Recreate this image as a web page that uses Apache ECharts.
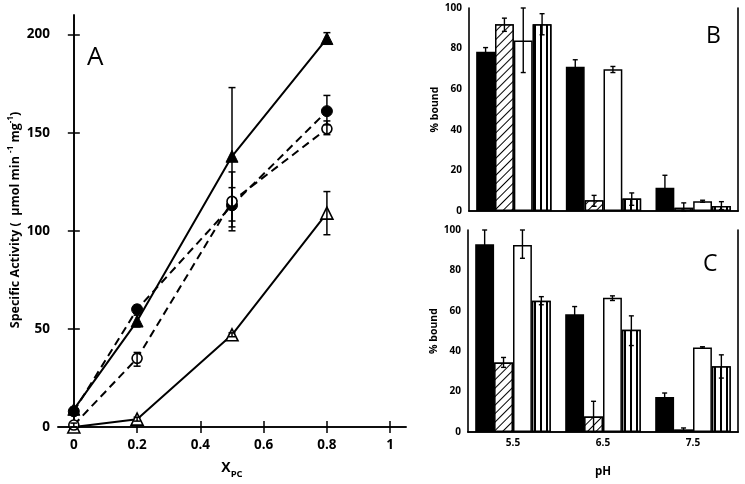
<!DOCTYPE html>
<html><head><meta charset="utf-8">
<script src="https://cdn.jsdelivr.net/npm/echarts@6/dist/echarts.min.js"></script>
<style>html,body{margin:0;padding:0;background:#fff}#c{width:745px;height:484px}</style>
</head><body><div id="c"></div>
<script>
// ---------- Panel A data ----------
const xPC = [0, 0.2, 0.5, 0.8];
const filledTri = [9, 54, 138, 198];
const filledTriErr = [[8, 10], [51, 57], [102, 173], [196, 201]];
const filledCirc = [8, 60, 113, 161];
const filledCircErr = [[7, 9], [58, 62], [105, 122], [154, 169]];
const openCirc = [1, 35, 115, 152];
const openCircErr = [[0, 2], [31, 38], [100, 130], [149, 156]];
const openTri = [0, 4, 47, 109];
const openTriErr = [[0, 0], [3, 5], [46, 48], [98, 120]];
const xTicksA = [0, 0.2, 0.4, 0.6, 0.8, 1];
const yTicksA = [0, 50, 100, 150, 200];

// ---------- Panels B and C data ----------
const pH = ['5.5', '6.5', '7.5'];
const B_black = [78.5, 71, 11.4];
const B_blackErr = [[76.5, 80.5], [67.5, 74.5], [5.2, 17.6]];
const B_hatch = [92, 5.3, 1.6];
const B_hatchErr = [[88.5, 95], [2.3, 7.7], [0, 4]];
const B_white = [84, 69.8, 4.8];
const B_whiteErr = [[68.2, 100], [68.2, 71.2], [4.3, 5.3]];
const B_stripe = [92, 6.1, 2.5];
const B_stripeErr = [[86.8, 97.2], [2.8, 8.9], [0.7, 4.6]];

const C_black = [93, 58.3, 17.3];
const C_blackErr = [[86, 100], [54.5, 62.1], [15.3, 19.3]];
const C_hatch = [34.4, 7.7, 1.2];
const C_hatchErr = [[32, 36.9], [0, 15.2], [0.3, 2]];
const C_white = [92.6, 66.4, 41.8];
const C_whiteErr = [[86, 100], [65.1, 67.4], [41.5, 42.2]];
const C_stripe = [65, 50.6, 32.5];
const C_stripeErr = [[63, 67], [42.8, 57.5], [26.7, 38.2]];

const FONT = 'Open Sans';
const BLACK = '#000';

function pairs(xs, ys) { return xs.map((x, i) => [x, ys[i]]); }
function errData(xs, errs) { return xs.map((x, i) => [x, errs[i][0], errs[i][1]]); }

function errRenderA(params, api) {
  const x = api.value(0), lo = api.value(1), hi = api.value(2);
  const p1 = api.coord([x, lo]), p2 = api.coord([x, hi]);
  const w = 3.5;
  return {
    type: 'group', children: [
      { type: 'line', shape: { x1: p1[0], y1: p1[1], x2: p2[0], y2: p2[1] }, style: { stroke: BLACK, lineWidth: 1.5 } },
      { type: 'line', shape: { x1: p1[0] - w, y1: p1[1], x2: p1[0] + w, y2: p1[1] }, style: { stroke: BLACK, lineWidth: 1.5 } },
      { type: 'line', shape: { x1: p2[0] - w, y1: p2[1], x2: p2[0] + w, y2: p2[1] }, style: { stroke: BLACK, lineWidth: 1.5 } }
    ]
  };
}

function errRenderBar(k) {
  return function (params, api) {
    const cat = api.value(0), lo = api.value(1), hi = api.value(2);
    const band = api.size([1, 0])[0];
    const c = api.coord([cat, lo]);
    const c2 = api.coord([cat, hi]);
    const bw = band * 0.84 / 4;
    const cx = c[0] - 2 * bw + bw * (k + 0.5);
    const w = 2.5;
    const st = { stroke: BLACK, lineWidth: 1.4 };
    return {
      type: 'group', children: [
        { type: 'line', shape: { x1: cx, y1: c[1], x2: cx, y2: c2[1] }, style: st },
        { type: 'line', shape: { x1: cx - w, y1: c[1], x2: cx + w, y2: c[1] }, style: st },
        { type: 'line', shape: { x1: cx - w, y1: c2[1], x2: cx + w, y2: c2[1] }, style: st }
      ]
    };
  };
}

const hatchDecal = { symbol: 'rect', symbolSize: 1, dashArrayX: [10, 0], dashArrayY: [1, 4.6], rotation: -Math.PI / 4, color: BLACK, backgroundColor: '#fff' };
const stripeDecal = { symbol: 'rect', symbolSize: 1, dashArrayX: [1.2, 3.3], dashArrayY: [10, 0], rotation: 0, color: BLACK, backgroundColor: '#fff' };

const barStyles = [
  { color: BLACK, borderColor: BLACK, borderWidth: 1.5 },
  { color: '#fff', borderColor: BLACK, borderWidth: 1.5, decal: hatchDecal },
  { color: '#fff', borderColor: BLACK, borderWidth: 1.5 },
  { color: '#fff', borderColor: BLACK, borderWidth: 1.5, decal: stripeDecal }
];

function barPanel(xIdx, yIdx, vals, errs) {
  const out = [];
  vals.forEach((v, k) => {
    out.push({ type: 'bar', xAxisIndex: xIdx, yAxisIndex: yIdx, data: v, barGap: '0%', barCategoryGap: '16%', itemStyle: barStyles[k], silent: true, animation: false, z: 2 });
  });
  errs.forEach((e, k) => {
    out.push({ type: 'custom', xAxisIndex: xIdx, yAxisIndex: yIdx, renderItem: errRenderBar(k), data: e.map((r, i) => [i, r[0], r[1]]), z: 5, animation: false, silent: true });
  });
  return out;
}

const lineAx = { show: true, lineStyle: { color: BLACK, width: 1.6 } };

function valAxis(extra) {
  return Object.assign({ type: 'value', axisLine: lineAx, splitLine: { show: false } }, extra);
}

const chart = echarts.init(document.getElementById('c'), null, { renderer: 'canvas' });
chart.setOption({
  animation: false,
  backgroundColor: '#fff',
  grid: [
    { left: 58, top: 15, width: 348, height: 413 },
    { left: 469, top: 8, width: 269, height: 203 },
    { left: 468, top: 230, width: 270, height: 202 }
  ],
  xAxis: [
    valAxis({ gridIndex: 0, min: -0.05, max: 1.05, position: 'bottom',
      axisTick: { inside: true, length: 6, customValues: xTicksA, lineStyle: { color: BLACK, width: 1.5 } },
      axisLabel: { customValues: xTicksA, color: BLACK, fontFamily: FONT, fontSize: 13.5, fontWeight: 'bold', margin: 11 },
      name: 'X{sub|PC}', nameLocation: 'middle', nameGap: 31,
      nameTextStyle: { color: BLACK, fontFamily: FONT, fontSize: 14, fontWeight: 'bold', rich: { sub: { fontSize: 9.5, fontWeight: 'bold', fontFamily: FONT, color: BLACK, padding: [11, 0, 0, 0] } } } }),
    valAxis({ gridIndex: 0, min: -0.05, max: 1.05, position: 'top',
      axisTick: { inside: true, length: 6, customValues: xTicksA, lineStyle: { color: BLACK, width: 1.5 } },
      axisLabel: { show: false } }),
    { type: 'category', gridIndex: 1, data: pH, position: 'bottom', axisLine: lineAx,
      axisTick: { inside: true, length: 4, lineStyle: { color: BLACK, width: 1.3 } }, axisLabel: { show: false } },
    { type: 'category', gridIndex: 1, data: pH, position: 'top', axisLine: lineAx,
      axisTick: { inside: true, length: 4, lineStyle: { color: BLACK, width: 1.3 } }, axisLabel: { show: false } },
    { type: 'category', gridIndex: 2, data: pH, position: 'bottom', axisLine: lineAx,
      axisTick: { inside: true, length: 4, lineStyle: { color: BLACK, width: 1.3 } },
      axisLabel: { color: BLACK, fontFamily: FONT, fontSize: 10, fontWeight: 'bold', margin: 6 },
      name: 'pH', nameLocation: 'middle', nameGap: 34, nameTextStyle: { color: BLACK, fontFamily: FONT, fontSize: 11.5, fontWeight: 'bold' } },
    { type: 'category', gridIndex: 2, data: pH, position: 'top', axisLine: lineAx,
      axisTick: { inside: true, length: 4, lineStyle: { color: BLACK, width: 1.3 } }, axisLabel: { show: false } }
  ],
  yAxis: [
    valAxis({ gridIndex: 0, min: 0, max: 210, position: 'left',
      axisTick: { inside: true, length: 6, customValues: yTicksA, lineStyle: { color: BLACK, width: 1.5 } },
      axisLabel: { customValues: yTicksA, color: BLACK, fontFamily: FONT, fontSize: 13.5, fontWeight: 'bold', margin: 8 } }),
    valAxis({ gridIndex: 0, min: 0, max: 210, position: 'right',
      axisTick: { inside: true, length: 6, customValues: yTicksA, lineStyle: { color: BLACK, width: 1.5 } },
      axisLabel: { show: false } }),
    valAxis({ gridIndex: 1, min: 0, max: 100, interval: 10, position: 'left',
      axisTick: { inside: true, length: 4, lineStyle: { color: BLACK, width: 1.3 } },
      axisLabel: { color: BLACK, fontFamily: FONT, fontSize: 10, fontWeight: 'bold', margin: 7, formatter: v => (v % 20 === 0 ? String(v) : '') },
      name: '% bound', nameLocation: 'middle', nameGap: 24, nameTextStyle: { color: BLACK, fontFamily: FONT, fontSize: 10.5, fontWeight: 'bold' } }),
    valAxis({ gridIndex: 1, min: 0, max: 100, interval: 10, position: 'right',
      axisTick: { inside: true, length: 4, lineStyle: { color: BLACK, width: 1.3 } }, axisLabel: { show: false } }),
    valAxis({ gridIndex: 2, min: 0, max: 100, interval: 10, position: 'left',
      axisTick: { inside: true, length: 4, lineStyle: { color: BLACK, width: 1.3 } },
      axisLabel: { color: BLACK, fontFamily: FONT, fontSize: 10, fontWeight: 'bold', margin: 7, formatter: v => (v % 20 === 0 ? String(v) : '') },
      name: '% bound', nameLocation: 'middle', nameGap: 24, nameTextStyle: { color: BLACK, fontFamily: FONT, fontSize: 10.5, fontWeight: 'bold' } }),
    valAxis({ gridIndex: 2, min: 0, max: 100, interval: 10, position: 'right',
      axisTick: { inside: true, length: 4, lineStyle: { color: BLACK, width: 1.3 } }, axisLabel: { show: false } })
  ],
  graphic: [
    { type: 'text', x: 15, y: 220, rotation: Math.PI / 2,
      style: { text: 'Specific Activity (  μmol min {sup|-1} mg{sup|-1})', fill: BLACK, font: 'bold 12.5px "Open Sans"', align: 'center', verticalAlign: 'middle',
        rich: { sup: { fontSize: 8, fontWeight: 'bold', fontFamily: FONT, fill: BLACK, padding: [0, 0, 8, 0] } } } },
    { type: 'text', left: 87, top: 45, style: { text: 'A', font: '400 26px "Open Sans"', fill: BLACK } },
    { type: 'text', left: 706, top: 25, style: { text: 'B', font: '400 23px "Open Sans"', fill: BLACK } },
    { type: 'text', left: 703, top: 253, style: { text: 'C', font: '400 23px "Open Sans"', fill: BLACK } }
  ],
  series: [
    { type: 'line', xAxisIndex: 0, yAxisIndex: 0, data: pairs(xPC, openTri), symbol: 'triangle', symbolSize: 12,
      lineStyle: { color: BLACK, width: 2 }, itemStyle: { color: '#fff', borderColor: BLACK, borderWidth: 1.6 }, z: 3 },
    { type: 'line', xAxisIndex: 0, yAxisIndex: 0, data: pairs(xPC, openCirc), symbol: 'circle', symbolSize: 10,
      lineStyle: { color: BLACK, width: 2, type: [8, 5] }, itemStyle: { color: '#fff', borderColor: BLACK, borderWidth: 1.6 }, z: 4 },
    { type: 'line', xAxisIndex: 0, yAxisIndex: 0, data: pairs(xPC, filledCirc), symbol: 'circle', symbolSize: 11,
      lineStyle: { color: BLACK, width: 2, type: [8, 5] }, itemStyle: { color: BLACK, borderColor: BLACK }, z: 3 },
    { type: 'line', xAxisIndex: 0, yAxisIndex: 0, data: pairs(xPC, filledTri), symbol: 'triangle', symbolSize: 12,
      lineStyle: { color: BLACK, width: 2 }, itemStyle: { color: BLACK, borderColor: BLACK }, z: 3 },
    { type: 'custom', xAxisIndex: 0, yAxisIndex: 0, renderItem: errRenderA, data: errData(xPC, filledTriErr), z: 5 },
    { type: 'custom', xAxisIndex: 0, yAxisIndex: 0, renderItem: errRenderA, data: errData(xPC, filledCircErr), z: 5 },
    { type: 'custom', xAxisIndex: 0, yAxisIndex: 0, renderItem: errRenderA, data: errData(xPC, openCircErr), z: 5 },
    { type: 'custom', xAxisIndex: 0, yAxisIndex: 0, renderItem: errRenderA, data: errData(xPC, openTriErr), z: 5 }
  ].concat(
    barPanel(2, 2, [B_black, B_hatch, B_white, B_stripe], [B_blackErr, B_hatchErr, B_whiteErr, B_stripeErr]),
    barPanel(4, 4, [C_black, C_hatch, C_white, C_stripe], [C_blackErr, C_hatchErr, C_whiteErr, C_stripeErr])
  )
});
</script></body></html>
